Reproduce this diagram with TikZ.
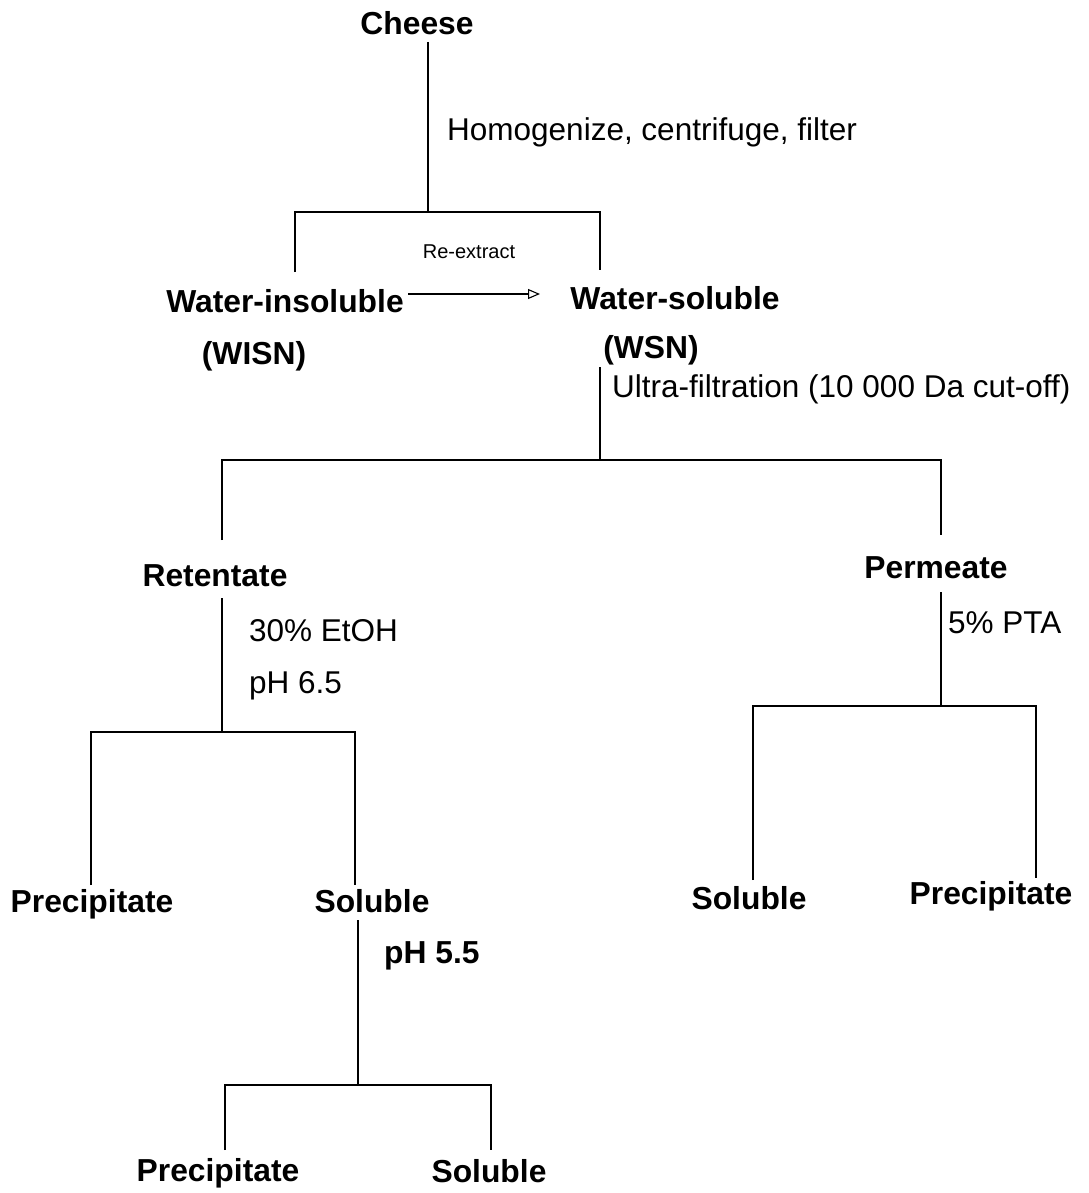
\documentclass[tikz,border=0pt]{standalone}
\usepackage{fontspec}
\setmainfont{Liberation Sans}
\usetikzlibrary{arrows.meta}
\begin{document}
\begin{tikzpicture}[x=1pt,y=-1pt,
  lab/.style={font=\fontsize{31.8}{36}\selectfont\bfseries, inner sep=0pt},
  txt/.style={font=\fontsize{31.5}{36}\selectfont, inner sep=0pt, anchor=west},
  small/.style={font=\fontsize{20}{24}\selectfont, inner sep=0pt},
  ln/.style={line width=1.3pt}]
\useasboundingbox (0,0) rectangle (1088,1193);
% nodes
\node[lab] (cheese) at (417,23) {Cheese};
\node[txt] (hom) at (447,132) {Homogenize, centrifuge, filter};
\node[small] (rex) at (469,252) {Re-extract};
\node[lab] (wi) at (285,301) {Water-insoluble};
\node[lab] (ws) at (675,298) {Water-soluble};
\node[lab] (wisn) at (254,356) {(WISN)};
\node[lab] (wsn) at (651,350) {(WSN)};
\node[txt] (uf) at (612,389) {Ultra-filtration (10 000 Da cut-off)};
\node[lab] (ret) at (215,576) {Retentate};
\node[lab] (perm) at (936,568) {Permeate};
\node[txt] (etoh) at (249,631) {30\% EtOH};
\node[txt] (ph65) at (249,686) {pH 6.5};
\node[txt] (pta) at (948,623) {5\% PTA};
\node[lab] (p1) at (92,904) {Precipitate};
\node[lab] (s1) at (372,901) {Soluble};
\node[lab] (s2) at (749,898) {Soluble};
\node[lab] (p2) at (991,896) {Precipitate};
\node[lab, anchor=west] (ph55) at (384,956) {pH 5.5};
\node[lab] (p3) at (218,1173) {Precipitate};
\node[lab] (s3) at (489,1171) {Soluble};
% junction coordinates
\coordinate (c0) at (428,42);
\coordinate (j1) at (428,212);
\coordinate (j1l) at (295,212);
\coordinate (j1r) at (600,212);
\coordinate (e1l) at (295,272);
\coordinate (e1r) at (600,270);
\coordinate (a1) at (408,294);
\coordinate (a2) at (540,294);
\coordinate (c1) at (600,367);
\coordinate (j2) at (600,460);
\coordinate (j2l) at (222,460);
\coordinate (j2r) at (941,460);
\coordinate (e2l) at (222,540);
\coordinate (e2r) at (941,535);
\coordinate (c2) at (222,598);
\coordinate (j3) at (222,732);
\coordinate (j3l) at (91,732);
\coordinate (j3r) at (355,732);
\coordinate (e3l) at (91,885);
\coordinate (e3r) at (355,885);
\coordinate (c3) at (358,920);
\coordinate (j4) at (358,1085);
\coordinate (j4l) at (225,1085);
\coordinate (j4r) at (491,1085);
\coordinate (e4l) at (225,1150);
\coordinate (e4r) at (491,1150);
\coordinate (c4) at (941,592);
\coordinate (j5) at (941,706);
\coordinate (j5l) at (753,706);
\coordinate (j5r) at (1036,706);
\coordinate (e5l) at (753,880);
\coordinate (e5r) at (1036,878);
% connectors
\draw[ln] (c0) -- (j1);
\draw[ln] (e1l) -- (j1l) -- (j1r) -- (e1r);
\draw[line width=1.1pt, -{Triangle[open,length=12pt,width=10pt]}] (a1) -- (a2);
\draw[ln] (c1) -- (j2);
\draw[ln] (e2l) -- (j2l) -- (j2r) -- (e2r);
\draw[ln] (c2) -- (j3);
\draw[ln] (e3l) -- (j3l) -- (j3r) -- (e3r);
\draw[ln] (c3) -- (j4);
\draw[ln] (e4l) -- (j4l) -- (j4r) -- (e4r);
\draw[ln] (c4) -- (j5);
\draw[ln] (e5l) -- (j5l) -- (j5r) -- (e5r);
\end{tikzpicture}
\end{document}
